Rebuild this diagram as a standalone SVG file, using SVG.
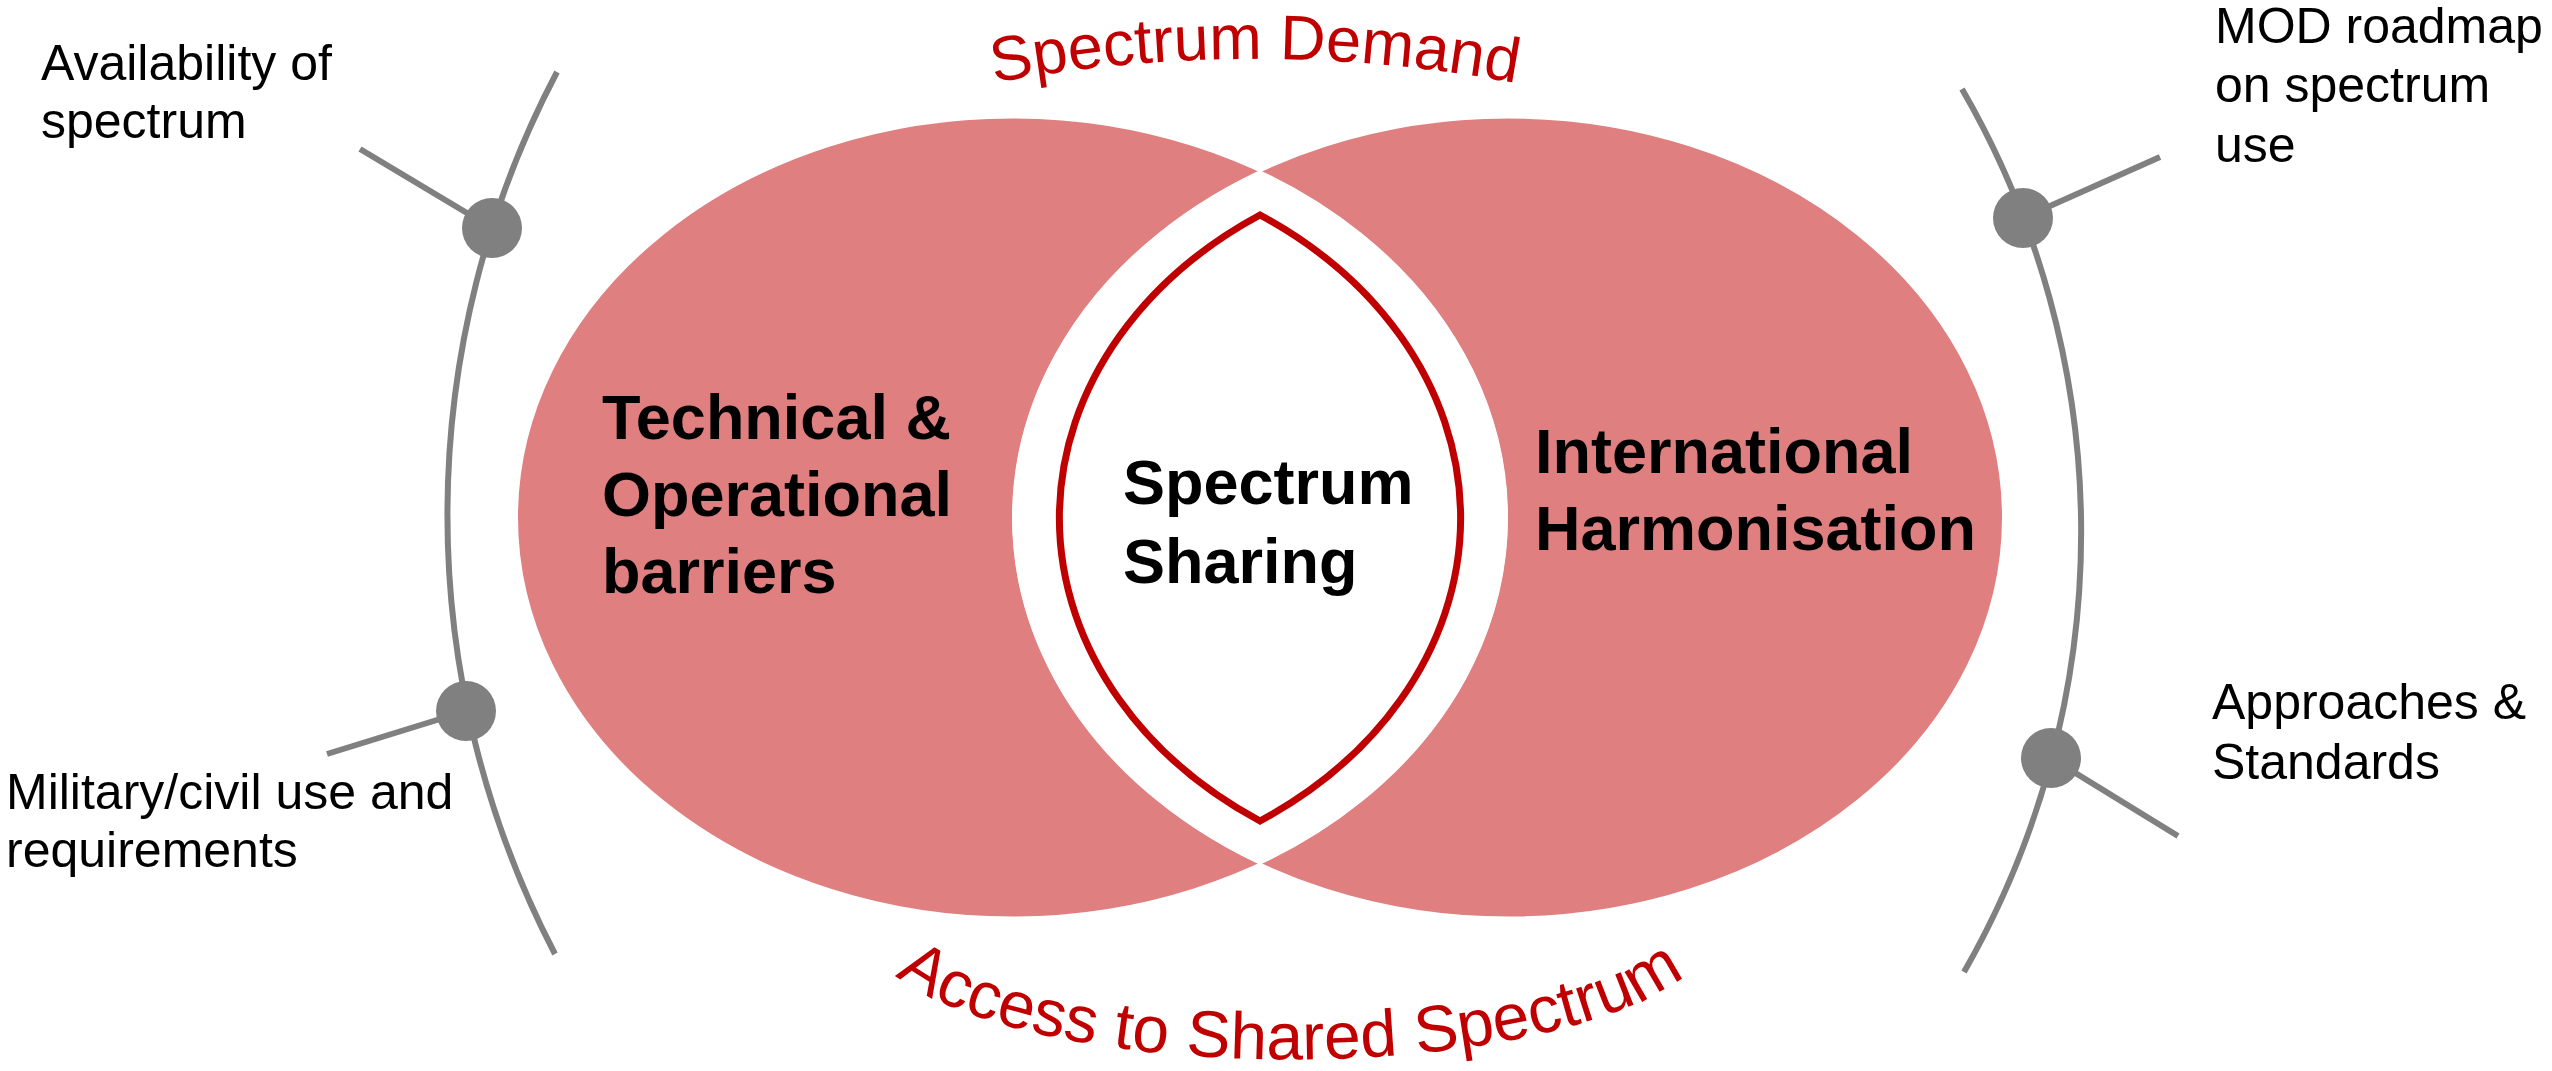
<svg xmlns="http://www.w3.org/2000/svg" width="2552" height="1071" viewBox="0 0 2552 1071">
  <style>
    .blob { fill: #DF7F80; }
    .blobedge { fill: none; stroke: #FFFFFF; stroke-width: 2; }
    .bold { font-family: "Liberation Sans", Arial, sans-serif; font-weight: bold; font-size: 63px; fill: #000000; }
    .label { font-family: "Liberation Sans", Arial, sans-serif; font-size: 50px; fill: #000000; }
    .arch { font-family: "Liberation Sans", Arial, sans-serif; fill: #C00000; }
    .line { fill: none; stroke: #808080; stroke-width: 6; }
    .dot { fill: #808080; }
  </style>
  <defs>
    <path id="topArc" d="M 855 116 A 1430 1430 0 0 1 1655 116"/>
    <path id="bottomArc" d="M 890 970 A 421 130 0 0 0 1690 970"/>
  </defs>
  <rect width="2552" height="1071" fill="#FFFFFF"/>

  <g id="connectors">
    <path class="line" d="M 557 72 A 950 950 0 0 0 555 954"/>
    <path class="line" d="M 1962 89 A 884 884 0 0 1 1964 972"/>
    <line class="line" x1="492" y1="228" x2="360" y2="149"/>
    <line class="line" x1="466" y1="711" x2="327" y2="754"/>
    <line class="line" x1="2023" y1="218" x2="2160" y2="157"/>
    <line class="line" x1="2051" y1="758" x2="2178" y2="836"/>
  </g>

  <g id="technical-operational">
    <ellipse class="blob" cx="1012" cy="517.5" rx="495" ry="400"/>
  </g>
  <g id="international-harmonisation">
    <ellipse class="blob" cx="1508" cy="517.5" rx="495" ry="400"/>
  </g>
  <g id="blob-edges">
    <ellipse class="blobedge" cx="1012" cy="517.5" rx="495" ry="400"/>
    <ellipse class="blobedge" cx="1508" cy="517.5" rx="495" ry="400"/>
  </g>
  <g id="technical-operational-label">
    <text class="bold" x="602" y="439">Technical &amp;</text>
    <text class="bold" x="602" y="516">Operational</text>
    <text class="bold" x="602" y="593">barriers</text>
  </g>
  <g id="international-harmonisation-label">
    <text class="bold" x="1535" y="473">International</text>
    <text class="bold" x="1535" y="550">Harmonisation</text>
  </g>

  <g id="spectrum-sharing">
    <path d="M 1260 171 A 495 400 0 0 0 1260 864 A 495 400 0 0 0 1260 171 Z" fill="#FFFFFF"/>
    <path d="M 1260 215 A 450 364 0 0 0 1260 821 A 450 364 0 0 0 1260 215 Z" fill="#FFFFFF" stroke="#C00000" stroke-width="7"/>
    <text class="bold" x="1123" y="504">Spectrum</text>
    <text class="bold" x="1123" y="583">Sharing</text>
  </g>

  <g id="spectrum-demand">
    <text class="arch" font-size="63"><textPath href="#topArc" startOffset="50%" text-anchor="middle">Spectrum Demand</textPath></text>
  </g>
  <g id="access-shared-spectrum">
    <text class="arch" font-size="66"><textPath href="#bottomArc" startOffset="50%" text-anchor="middle">Access to Shared Spectrum</textPath></text>
  </g>

  <g id="availability">
    <circle class="dot" cx="492" cy="228" r="30"/>
    <text class="label" x="41" y="80">Availability of</text>
    <text class="label" x="41" y="138">spectrum</text>
  </g>
  <g id="military-civil">
    <circle class="dot" cx="466" cy="711" r="30"/>
    <text class="label" x="6" y="809">Military/civil use and</text>
    <text class="label" x="6" y="867">requirements</text>
  </g>
  <g id="mod-roadmap">
    <circle class="dot" cx="2023" cy="218" r="30"/>
    <text class="label" x="2215" y="43">MOD roadmap</text>
    <text class="label" x="2215" y="102">on spectrum</text>
    <text class="label" x="2215" y="162">use</text>
  </g>
  <g id="approaches-standards">
    <circle class="dot" cx="2051" cy="758" r="30"/>
    <text class="label" x="2212" y="719">Approaches &amp;</text>
    <text class="label" x="2212" y="779">Standards</text>
  </g>
</svg>
